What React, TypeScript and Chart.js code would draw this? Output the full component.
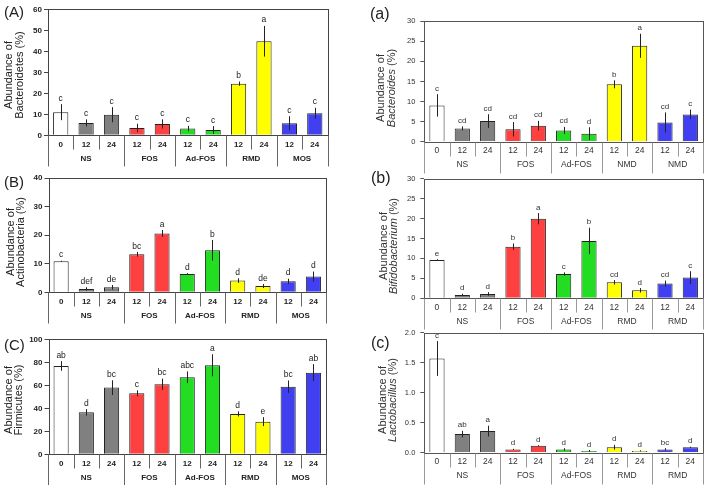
import React, { useEffect, useRef } from "react";
import { Chart, registerables } from "chart.js";

Chart.register(...registerables);

// ---------- data ----------
const timeLabels = ["0", "12", "24", "12", "24", "12", "24", "12", "24", "12", "24"];
const groupSizes = [3, 2, 2, 2, 2];

const groupsLeft = ["NS", "FOS", "Ad-FOS", "RMD", "MOS"];
const groupsBacteroides = ["NS", "FOS", "Ad-FOS", "NMD", "NMD"];
const groupsRight = ["NS", "FOS", "Ad-FOS", "RMD", "RMD"];

const bacteroidetesMean = [11, 5.9, 9.8, 3.5, 5.4, 3.2, 2.5, 24.6, 44.8, 5.7, 10.5];
const bacteroidetesErr = [3.8, 1.7, 3.6, 2.0, 2.2, 1.3, 1.9, 1.0, 7.3, 3.4, 2.6];
const bacteroidetesSig = ["c", "c", "c", "c", "c", "c", "c", "b", "a", "c", "c"];

const actinobacteriaMean = [10.85, 1.17, 1.75, 13.3, 20.6, 6.4, 14.7, 4.1, 2.2, 3.85, 5.5];
const actinobacteriaErr = [0.2, 0.6, 0.8, 0.8, 1.2, 0.3, 3.6, 0.8, 0.7, 0.9, 1.75];
const actinobacteriaSig = ["c", "def", "de", "bc", "a", "d", "b", "d", "de", "d", "d"];

const firmicutesMean = [76.8, 36.5, 58, 53, 60.9, 67, 77.4, 35.1, 28.4, 58.8, 71];
const firmicutesErr = [4.2, 2.8, 6.4, 2.6, 4.9, 5.1, 9.6, 2.2, 3.9, 5.4, 7.4];
const firmicutesSig = ["ab", "d", "bc", "c", "bc", "abc", "a", "d", "e", "bc", "ab"];

const bacteroidesMean = [9.05, 3.3, 5.15, 3.1, 4.0, 2.8, 2.0, 14.3, 23.9, 4.8, 6.8];
const bacteroidesErr = [2.8, 0.5, 1.7, 1.8, 1.2, 0.9, 1.6, 1.0, 3.0, 2.5, 1.2];
const bacteroidesSig = ["c", "cd", "cd", "cd", "cd", "cd", "d", "b", "a", "cd", "c"];

const bifidobacteriumMean = [9.6, 0.84, 1.1, 12.95, 19.97, 6.1, 14.4, 4.0, 2.0, 3.7, 5.2];
const bifidobacteriumErr = [0.2, 0.3, 0.45, 0.8, 1.4, 0.4, 3.3, 0.55, 0.55, 0.75, 1.6];
const bifidobacteriumSig = ["e", "d", "d", "b", "a", "c", "b", "cd", "d", "cd", "c"];

const lactobacillusMean = [1.57, 0.31, 0.36, 0.055, 0.115, 0.055, 0.03, 0.09, 0.03, 0.055, 0.09];
const lactobacillusErr = [0.29, 0.055, 0.09, 0.01, 0.01, 0.02, 0.015, 0.04, 0.01, 0.02, 0.01];
const lactobacillusSig = ["c", "ab", "a", "d", "d", "d", "d", "d", "d", "bc", "d"];

// ---------- styles ----------
const FONT = "'Liberation Sans', Arial, Helvetica, sans-serif";
const groupColors = ["#808080", "#ff4040", "#22dd22", "#ffff00", "#4040f0"];
const barColors = ["#ffffff", ...groupSizes.flatMap((n, g) => Array(g === 0 ? n - 1 : n).fill(groupColors[g]))];

type Side = "left" | "right";
const sideStyle = {
  left: {
    tickSize: 8, tickWeight: "bold", catFont: `bold 8px ${FONT}`, groupFont: `bold 8px ${FONT}`,
    sigFont: `8.5px ${FONT}`, titleSize: 11, tagFont: `15px ${FONT}`, box: "#444", line: "#666",
    text: "#222", tickPad: 2,
  },
  right: {
    tickSize: 7.5, tickWeight: "normal", catFont: `8.5px ${FONT}`, groupFont: `8.5px ${FONT}`,
    sigFont: `8px ${FONT}`, titleSize: 11, tagFont: `16px ${FONT}`, box: "#555", line: "#999",
    text: "#333", tickPad: 5,
  },
};

type PanelCfg = {
  mean: number[]; err: number[]; sig: string[]; groups: string[];
  yMax: number; yStep: number; decimals: number;
  area: [number, number, number, number];
  side: Side;
  title1: string; title2Main: string; title2Rest: string; italic: boolean;
  titlePos: [number, number, number];
  tag: string; tagPos: [number, number];
};

const panels: PanelCfg[] = [
  {
    mean: bacteroidetesMean, err: bacteroidetesErr, sig: bacteroidetesSig, groups: groupsLeft,
    yMax: 60, yStep: 10, decimals: 0, area: [48, 9.3, 327.5, 135.3], side: "left",
    title1: "Abundance of", title2Main: "Bacteroidetes", title2Rest: " (%)", italic: false,
    titlePos: [9, 19.5, 75], tag: "(A)", tagPos: [4, 13],
  },
  {
    mean: actinobacteriaMean, err: actinobacteriaErr, sig: actinobacteriaSig, groups: groupsLeft,
    yMax: 40, yStep: 10, decimals: 0, area: [48.5, 178, 326, 292.3], side: "left",
    title1: "Abundance of", title2Main: "Actinobacteria", title2Rest: " (%)", italic: false,
    titlePos: [10.5, 21, 242], tag: "(B)", tagPos: [4, 182.5],
  },
  {
    mean: firmicutesMean, err: firmicutesErr, sig: firmicutesSig, groups: groupsLeft,
    yMax: 100, yStep: 20, decimals: 0, area: [48.5, 339.3, 326, 454.3], side: "left",
    title1: "Abundance of", title2Main: "Firmicutes", title2Rest: " (%)", italic: false,
    titlePos: [8.5, 18.5, 400], tag: "(C)", tagPos: [4, 346],
  },
  {
    mean: bacteroidesMean, err: bacteroidesErr, sig: bacteroidesSig, groups: groupsBacteroides,
    yMax: 30, yStep: 5, decimals: 0, area: [424.3, 21.3, 703, 141.7], side: "right",
    title1: "Abundance of", title2Main: "Bacteroides", title2Rest: " (%)", italic: true,
    titlePos: [381, 391.5, 88], tag: "(a)", tagPos: [370, 14.5],
  },
  {
    mean: bifidobacteriumMean, err: bifidobacteriumErr, sig: bifidobacteriumSig, groups: groupsRight,
    yMax: 30, yStep: 5, decimals: 0, area: [424.3, 178.7, 703, 298.3], side: "right",
    title1: "Abundance of", title2Main: "Bifidobacterium", title2Rest: " (%)", italic: true,
    titlePos: [384, 394, 246], tag: "(b)", tagPos: [371, 179],
  },
  {
    mean: lactobacillusMean, err: lactobacillusErr, sig: lactobacillusSig, groups: groupsRight,
    yMax: 2, yStep: 0.5, decimals: 1, area: [424.3, 332.7, 703, 452.7], side: "right",
    title1: "Abundance of", title2Main: "Lactobacillus", title2Rest: " (%)", italic: true,
    titlePos: [382.5, 392.5, 400], tag: "(c)", tagPos: [371, 343.5],
  },
];

const W = 707;
const H = 485;
const Y_AXIS_W = 40;

function makePlugin(cfg: PanelCfg) {
  const st = sideStyle[cfg.side];
  return {
    id: "deco",
    afterDatasetsDraw(chart: any) {
      const ctx: CanvasRenderingContext2D = chart.ctx;
      const y = chart.scales.y;
      const meta = chart.getDatasetMeta(0);
      ctx.save();
      ctx.strokeStyle = "#222";
      ctx.lineWidth = 1;
      ctx.fillStyle = st.text;
      ctx.font = st.sigFont;
      ctx.textAlign = "center";
      ctx.textBaseline = "alphabetic";
      cfg.mean.forEach((m, i) => {
        const bx = meta.data[i].x;
        const px = Math.round(bx) + 0.5;
        const yt = y.getPixelForValue(m + cfg.err[i]);
        const yb = y.getPixelForValue(Math.max(0, m - cfg.err[i]));
        ctx.beginPath();
        ctx.moveTo(px, yt);
        ctx.lineTo(px, yb);
        ctx.stroke();
        ctx.fillText(cfg.sig[i], bx, yt - 3.5);
      });
      ctx.restore();
    },
    afterDraw(chart: any) {
      const ctx: CanvasRenderingContext2D = chart.ctx;
      const x = chart.scales.x;
      const { left, top, right, bottom } = chart.chartArea;
      ctx.save();
      // plot frame
      ctx.strokeStyle = st.box;
      ctx.lineWidth = 1;
      const L = Math.round(left) + 0.5, T = Math.round(top) + 0.5;
      const R = Math.round(right) + 0.5, B = Math.round(bottom) + 0.5;
      ctx.strokeRect(L, T, R - L, B - T);

      // category table
      const n = timeLabels.length;
      const half = (x.getPixelForValue(1) - x.getPixelForValue(0)) / 2;
      const edge = (i: number) => (i < n ? x.getPixelForValue(i) - half : x.getPixelForValue(n - 1) + half);
      const groupEdges: number[] = [0];
      groupSizes.forEach((s) => groupEdges.push(groupEdges[groupEdges.length - 1] + s));
      ctx.strokeStyle = st.line;
      for (let i = 0; i <= n; i++) {
        const ex = Math.round(edge(i)) + 0.5;
        const isGroup = groupEdges.includes(i);
        ctx.beginPath();
        ctx.moveTo(ex, B);
        ctx.lineTo(ex, B + (isGroup ? 31 : 14));
        ctx.stroke();
      }
      ctx.fillStyle = st.text;
      ctx.textAlign = "center";
      ctx.textBaseline = "middle";
      ctx.font = st.catFont;
      timeLabels.forEach((t, i) => ctx.fillText(t, x.getPixelForValue(i), bottom + 9));
      ctx.font = st.groupFont;
      cfg.groups.forEach((g, k) => {
        const cx = (edge(groupEdges[k]) + edge(groupEdges[k + 1])) / 2;
        ctx.fillText(g, cx, bottom + 23.3);
      });

      // y title (two rotated lines)
      const [cx1, cx2, cy] = cfg.titlePos;
      const normal = `${st.titleSize}px ${FONT}`;
      const ital = `italic ${st.titleSize}px ${FONT}`;
      ctx.save();
      ctx.translate(cx1, cy);
      ctx.rotate(-Math.PI / 2);
      ctx.font = normal;
      ctx.fillText(cfg.title1, 0, 0);
      ctx.restore();
      ctx.save();
      ctx.translate(cx2, cy);
      ctx.rotate(-Math.PI / 2);
      ctx.textAlign = "left";
      ctx.font = cfg.italic ? ital : normal;
      const w1 = ctx.measureText(cfg.title2Main).width;
      ctx.font = normal;
      const w2 = ctx.measureText(cfg.title2Rest).width;
      const start = -(w1 + w2) / 2;
      ctx.font = cfg.italic ? ital : normal;
      ctx.fillText(cfg.title2Main, start, 0);
      ctx.font = normal;
      ctx.fillText(cfg.title2Rest, start + w1, 0);
      ctx.restore();

      // panel tag
      ctx.font = st.tagFont;
      ctx.textAlign = "left";
      ctx.fillStyle = "#222";
      ctx.fillText(cfg.tag, cfg.tagPos[0], cfg.tagPos[1]);
      ctx.restore();
    },
  };
}

function Panel({ cfg }: { cfg: PanelCfg }) {
  const ref = useRef<HTMLCanvasElement>(null);
  useEffect(() => {
    const st = sideStyle[cfg.side];
    const [l, t, r, b] = cfg.area;
    const chart = new Chart(ref.current as HTMLCanvasElement, {
      type: "bar",
      data: {
        labels: timeLabels,
        datasets: [
          {
            data: cfg.mean,
            backgroundColor: barColors,
            borderColor: "#222",
            borderWidth: 1,
            barPercentage: 0.6,
            categoryPercentage: 1,
          },
        ],
      },
      options: {
        responsive: false,
        animation: false,
        devicePixelRatio: 1,
        events: [],
        layout: { padding: { left: l - Y_AXIS_W, top: t, right: W - r, bottom: H - b } },
        plugins: { legend: { display: false }, tooltip: { enabled: false }, title: { display: false } },
        scales: {
          x: {
            type: "category",
            ticks: { display: false },
            grid: { display: false },
            border: { display: false },
            afterFit: (s: any) => { s.height = 0; },
          },
          y: {
            min: 0,
            max: cfg.yMax,
            ticks: {
              stepSize: cfg.yStep,
              padding: st.tickPad,
              color: st.text,
              font: { family: FONT, size: st.tickSize, weight: st.tickWeight as any },
              callback: (v: any) => Number(v).toFixed(cfg.decimals),
            },
            grid: { drawOnChartArea: false, drawTicks: true, tickLength: 4, color: st.box },
            border: { display: false },
            afterFit: (s: any) => { s.width = Y_AXIS_W; },
          },
        },
      },
      plugins: [makePlugin(cfg)],
    } as any);
    return () => chart.destroy();
  }, [cfg]);
  return (
    <canvas
      ref={ref}
      width={W}
      height={H}
      style={{ position: "absolute", left: 0, top: 0, width: W, height: H }}
    />
  );
}

export default function App() {
  return (
    <div style={{ position: "absolute", left: 0, top: 0, width: W, height: H, background: "#fff", overflow: "hidden" }}>
      {panels.map((p, i) => (
        <Panel key={i} cfg={p} />
      ))}
    </div>
  );
}
